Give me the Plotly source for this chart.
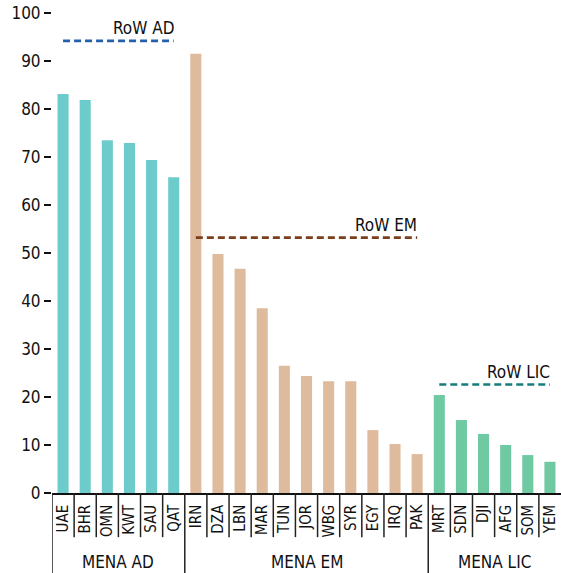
import plotly.graph_objects as go

# ---- data ----
ad_countries = ["UAE", "BHR", "OMN", "KWT", "SAU", "QAT"]
ad_values = [83.1, 81.9, 73.5, 72.9, 69.4, 65.8]
em_countries = ["IRN", "DZA", "LBN", "MAR", "TUN", "JOR", "WBG", "SYR", "EGY", "IRQ", "PAK"]
em_values = [91.5, 49.8, 46.7, 38.5, 26.5, 24.4, 23.3, 23.3, 13.1, 10.2, 8.1]
lic_countries = ["MRT", "SDN", "DJI", "AFG", "SOM", "YEM"]
lic_values = [20.4, 15.2, 12.3, 10.0, 7.9, 6.5]
group_names = ["MENA AD", "MENA EM", "MENA LIC"]
row_names = ["RoW AD", "RoW EM", "RoW LIC"]
row_values = [94.2, 53.2, 22.6]
y_ticks = [0, 10, 20, 30, 40, 50, 60, 70, 80, 90, 100]

FONT = "DejaVu Sans Condensed, Liberation Sans Narrow, sans-serif"
bar_colors = ["#6ecbcb", "#dfbb9d", "#6fc9a3"]
line_colors = ["#2461aa", "#7b3f1c", "#157c7b"]

groups = [(ad_countries, ad_values), (em_countries, em_values), (lic_countries, lic_values)]
all_countries = ad_countries + em_countries + lic_countries

fig = go.Figure()
for (cats, vals), col in zip(groups, bar_colors):
    fig.add_trace(go.Bar(x=cats, y=vals, marker=dict(color=col, line=dict(width=0)),
                         showlegend=False))

annotations = []
shapes = []
start = 0
for gi, ((cats, vals), lc, rn, rv, gn) in enumerate(zip(groups, line_colors, row_names, row_values, group_names)):
    fig.add_trace(go.Scatter(x=[cats[0], cats[-1]], y=[rv, rv], mode="lines",
                             line=dict(color=lc, width=2.6, dash="7px,4px"),
                             showlegend=False))
    annotations.append(dict(x=start + len(cats) - 1, y=rv, xref="x", yref="y",
                            text=rn, showarrow=False, xanchor="right", yanchor="bottom",
                            xshift=2, yshift=1,
                            font=dict(family=FONT, size=17, color="#111")))
    annotations.append(dict(x=start + (len(cats) - 1) / 2, y=-0.168, xref="x", yref="paper",
                            text=gn, showarrow=False, xanchor="center", yanchor="bottom",
                            font=dict(family=FONT, size=17, color="#111")))
    start += len(cats)

# separators
group_starts = [0, len(ad_countries), len(ad_countries) + len(em_countries)]
for i in range(len(all_countries)):
    b = i - 0.5
    full = i in group_starts
    shapes.append(dict(type="line", xref="x", yref="paper", x0=b, x1=b, y0=0,
                       y1=-0.168 if full else -0.092,
                       line=dict(color="#222", width=1.5)))

fig.update_layout(
    width=561, height=573,
    margin=dict(l=52, r=0, t=13, b=80),
    paper_bgcolor="white", plot_bgcolor="white",
    bargap=0.5,
    barmode="group",
    font=dict(family=FONT, size=17, color="#111"),
    annotations=annotations,
    shapes=shapes,
)
fig.update_xaxes(categoryorder="array", categoryarray=all_countries,
                 range=[-0.5, len(all_countries) - 0.5],
                 tickangle=-90, ticks="", showline=True, linecolor="#111", linewidth=1.5,
                 showgrid=False, tickfont=dict(family=FONT, size=15, color="#111"),
                 ticklabelstandoff=4)
fig.update_yaxes(range=[0, 100], tickvals=y_ticks, ticks="outside", ticklen=7,
                 tickcolor="#111", tickwidth=1.5, showline=False, showgrid=False,
                 zeroline=False, tickfont=dict(family=FONT, size=17, color="#111"))

fig.write_html("out.html", config={"displayModeBar": False},
               post_script="document.body.style.margin='0';document.body.style.overflow='hidden';")
